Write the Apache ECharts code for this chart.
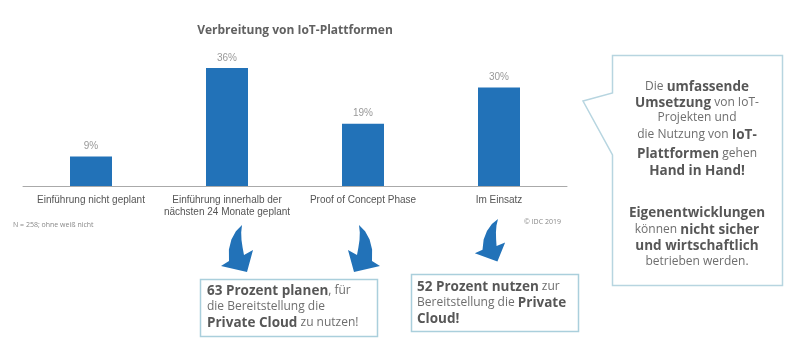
<!DOCTYPE html>
<html>
<head>
<meta charset="utf-8">
<script src="https://cdn.jsdelivr.net/npm/echarts@6/dist/echarts.min.js"></script>
<style>
  html, body { margin: 0; padding: 0; background: #fff; }
  #chart { width: 799px; height: 354px; }
</style>
</head>
<body>
<div id="chart"></div>
<script>
// 数据
const categories = ['Einführung nicht geplant', 'Einführung innerhalb der\nnächsten 24 Monate geplant', 'Proof of Concept Phase', 'Im Einsatz'];
const values = [9, 36, 19, 30];

// 文本块 (富文本, 每行一项)
const box1Lines = ['{b|63 Prozent planen}{n|, für}', '{n|die Bereitstellung die}', '{b|Private Cloud}{n| zu nutzen!}'];
const box2Lines = ['{b|52 Prozent nutzen}{n| zur}', '{n|Bereitstellung die }{b|Private}', '{b|Cloud!}'];
const calloutLines = [
    '{n|Die }{b|umfassende}',
    '{b|Umsetzung}{n| von IoT-}',
    '{n|Projekten und}',
    '{n|die Nutzung von }{b|IoT-}',
    '{b|Plattformen}{n| gehen}',
    '{b|Hand in Hand!}',
    '{b|Eigenentwicklungen}',
    '{n|können }{b|nicht sicher}',
    '{b|und wirtschaftlich}',
    '{n|betrieben werden.}'
];
const calloutY = [87, 103, 118, 135, 154, 171, 213, 230, 246, 262];

const BLUE = '#2272b8';
const BORDER = '#aacfdc';
const rich = {
    b: { fontFamily: 'Open Sans', fontWeight: 'bold', fontSize: 13.5, fill: '#575757', color: '#575757' },
    n: { fontFamily: 'Open Sans', fontSize: 12, fill: '#6e6e6e', color: '#6e6e6e' }
};

// 弯曲箭头轮廓 (局部坐标, 尾端为原点)
const arrowPoints = [[0, 0], [-6.1, 6.3], [-10.6, 14.6], [-13.1, 24.6], [-13, 36], [-21, 41], [5, 47],
    [11, 25], [2, 30], [0.6, 22.5], [-0.5, 15], [-0.8, 7.5]];

function textLines(lines, x, ys, align) {
    return lines.map((t, i) => ({
        type: 'text',
        x: x,
        y: ys[i],
        style: { text: t, rich: rich, textAlign: align, textVerticalAlign: 'middle', align: align, verticalAlign: 'middle' }
    }));
}

function arrow(x, y, sx, sy, rot) {
    return { type: 'polygon', x: x, y: y, scaleX: sx, scaleY: sy, rotation: rot, shape: { points: arrowPoints }, style: { fill: BLUE } };
}

const chart = echarts.init(document.getElementById('chart'));

const graphics = [
    // 脚注
    { type: 'text', x: 13, y: 225, style: { text: 'N = 258; ohne weiß nicht', font: '7px "Open Sans"', fill: '#888', textVerticalAlign: 'middle' } },
    { type: 'text', x: 524, y: 222, style: { text: '© IDC 2019', font: '7px "Open Sans"', fill: '#888', textVerticalAlign: 'middle' } },
    // 箭头
    arrow(242, 225, 1, 1, 0),
    arrow(359, 225, -1, 1, 0),
    arrow(498, 219, 0.9, 0.9, -0.12),
    // 文本框
    { type: 'rect', shape: { x: 200.5, y: 279.5, width: 177, height: 57 }, style: { fill: '#fff', stroke: BORDER, lineWidth: 1.5 } },
    { type: 'rect', shape: { x: 411.5, y: 274.5, width: 167, height: 57 }, style: { fill: '#fff', stroke: BORDER, lineWidth: 1.5 } },
    // 右侧对话框
    { type: 'polygon', shape: { points: [[612.5, 55.5], [782.5, 55.5], [782.5, 285.5], [612.5, 285.5], [612.5, 155], [583, 101], [612.5, 93]] }, style: { fill: '#fff', stroke: '#b7d5e0', lineWidth: 1.5 } }
]
    .concat(textLines(box1Lines, 207, [291, 307, 323], 'left'))
    .concat(textLines(box2Lines, 417, [287, 303, 319], 'left'))
    .concat(textLines(calloutLines, 697, calloutY, 'center'));

chart.setOption({
    animation: false,
    title: {
        text: 'Verbreitung von IoT-Plattformen',
        left: 290,
        top: 20,
        textAlign: 'center',
        textStyle: { fontFamily: 'Open Sans', fontWeight: 'bold', fontSize: 12, color: '#616161' }
    },
    grid: { left: 23, right: 232, top: 22, bottom: 168 },
    xAxis: {
        type: 'category',
        data: categories,
        axisLine: { lineStyle: { color: '#aaa', width: 1 } },
        axisTick: { show: false },
        axisLabel: { fontFamily: 'Liberation Sans', fontSize: 10, color: '#555', margin: 8, lineHeight: 12, interval: 0 }
    },
    yAxis: {
        type: 'value',
        min: 0,
        max: 50,
        show: false
    },
    series: [{
        type: 'bar',
        data: values,
        barWidth: 42,
        itemStyle: { color: BLUE },
        label: {
            show: true,
            position: 'top',
            distance: 5,
            formatter: '{c}%',
            fontFamily: 'Liberation Sans',
            fontSize: 10,
            color: '#999'
        }
    }],
    graphic: graphics
});
</script>
</body>
</html>
